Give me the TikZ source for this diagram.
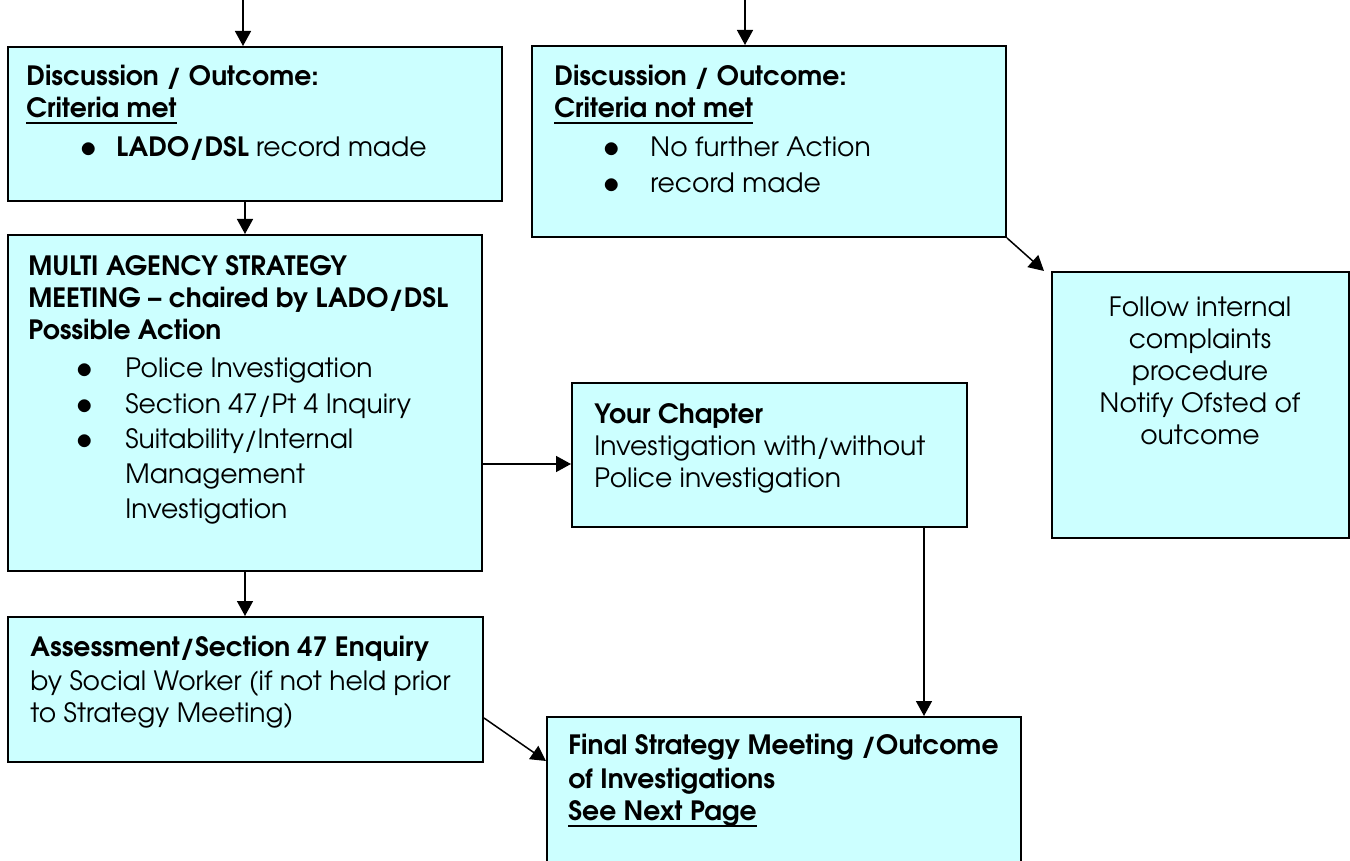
\documentclass[tikz,border=0pt]{standalone}
\usepackage{fontspec}
\setmainfont{TeX Gyre Adventor}
\usetikzlibrary{arrows.meta}
\definecolor{boxcyan}{HTML}{CCFFFF}
\newsavebox\ulbox
\newcommand\myul[1]{\sbox\ulbox{#1}\rlap{\rule[-3pt]{\wd\ulbox}{1pt}}\usebox\ulbox}
\newcommand\fs{\fontsize{13.3}{16}\selectfont}
\newcommand\bdot{\raisebox{-0.3pt}{\scalebox{1.15}{$\bullet$}}}
\newcommand\bl[2]{\hspace*{#1}\rlap{\bdot}\hspace*{\dimexpr#2-#1\relax}}
\tikzset{
  box/.style={draw=black, line width=1pt, fill=boxcyan, inner sep=0pt},
  txt/.style={anchor=north west, inner sep=0pt, align=left, font=\fs},
  arr/.style={-{Triangle[width=8pt,length=7.5pt]}, line width=0.75pt},
}
\begin{document}
\begin{tikzpicture}[x=0.5pt,y=-0.5pt]
\clip (0,0) rectangle (1350,861);
% boxes
\node[box, minimum width=247pt, minimum height=77pt] (b1) at (255,124) {};
\node[box, minimum width=237pt, minimum height=95.5pt] (b2) at (769,141.5) {};
\node[box, minimum width=148.5pt, minimum height=133pt] (follow) at (1200.5,405) {};
\node[box, minimum width=237pt, minimum height=168pt] (multi) at (245,403) {};
\node[box, minimum width=197.5pt, minimum height=72pt] (yc) at (769.5,455) {};
\node[box, minimum width=237.5pt, minimum height=72.5pt] (assess) at (245.5,689.5) {};
\node[box, minimum width=237pt, minimum height=81.5pt] (final) at (784,798.5) {};
% texts
\node[txt] (t1) at (26,65) {\textbf{Discussion / Outcome:}\\
\textbf{\myul{Criteria met}}\\[3.5pt]
\bl{27pt}{45pt}\textbf{LADO/DSL} record made};
\node[txt] (t2) at (554,65) {\textbf{Discussion / Outcome:}\\
\textbf{\myul{Criteria not met}}\\[3.5pt]
\bl{24.5pt}{48pt}No further Action\\[2pt]
\bl{24.5pt}{48pt}record made};
\node[txt] (t3) at (28,255) {\textbf{MULTI AGENCY STRATEGY}\\
\textbf{MEETING – chaired by LADO/DSL}\\
\textbf{Possible Action}\\[3pt]
\bl{24pt}{48.5pt}Police Investigation\\[2pt]
\bl{24pt}{48.5pt}Section 47/Pt 4 Inquiry\\[1.5pt]
\bl{24pt}{48.5pt}Suitability/Internal\\[1.5pt]
\hspace*{48.5pt}Management\\[1.5pt]
\hspace*{48.5pt}Investigation};
\node[txt] (t4) at (594,403) {\textbf{Your Chapter}\\
Investigation with/without\\
Police investigation};
\node[txt] (t5) at (30,636) {\textbf{Assessment/Section 47 Enquiry}\\[1pt]
by Social Worker (if not held prior\\
to Strategy Meeting)};
\node[txt] (t6) at (568,734) {\textbf{Final Strategy Meeting /Outcome}\\[1pt]
\textbf{of Investigations}\\
\textbf{\myul{See Next Page}}};
\node[anchor=north, inner sep=0pt, align=center, font=\fs] (t7) at (1200,296) {Follow internal\\
complaints\\
procedure\\
Notify Ofsted of\\
outcome};
% connectors
\coordinate (in1) at (243,0);
\coordinate (in2) at (745,0);
\draw[arr] (in1) -- (in1 |- b1.north);
\draw[arr] (in2) -- (in2 |- b2.north);
\draw[arr] (multi.north |- b1.south) -- (multi.north);
\draw[arr] (multi.south) -- (multi.south |- assess.north);
\draw[arr] (multi.east |- 0,464) -- (yc.west |- 0,464);
\draw[arr] (yc.south -| 924,0) -- (final.north -| 924,0);
\draw[arr] (assess.east |- 0,718) -- (final.west |- 0,761);
\draw[arr] (b2.south east) -- ([xshift=-3.5pt]follow.north west);
\end{tikzpicture}
\end{document}
